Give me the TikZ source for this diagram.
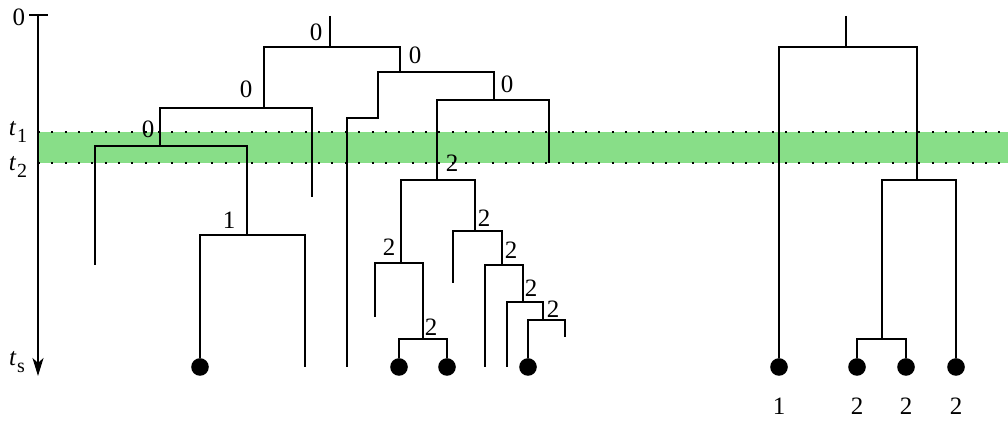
\documentclass[tikz,border=0pt]{standalone}
\usepackage{fontspec}
\setmainfont{Liberation Serif}
\usetikzlibrary{arrows.meta}
\definecolor{band}{RGB}{136,222,136}
\newcommand{\tlab}[1]{\textit{t}\kern0.3pt\raisebox{-0.3em}{\fontsize{10}{10}\selectfont #1}}
\begin{document}
\begin{tikzpicture}[x=0.5pt,y=-0.5pt,
  br/.style={line width=0.95pt},
  axisline/.style={line width=1pt},
  dotline/.style={line width=1pt, dash pattern=on 1pt off 5.67pt},
  leaf/.style={circle, fill=black, inner sep=0pt, minimum size=8.8pt},
  lab/.style={font=\fontsize{12.5}{14}\selectfont, inner sep=0pt},
]
\useasboundingbox (0,0) rectangle (1008,421);
% band
\fill[band] (38,132) rectangle (1008,163);
\coordinate (b1l) at (38,132); \coordinate (b1r) at (1008,132);
\coordinate (b2l) at (38,163); \coordinate (b2r) at (1008,163);
\draw[dotline] (b1l) -- (b1r);
\draw[dotline] (b2l) -- (b2r);
% axis
\coordinate (ax0) at (38,15); \coordinate (axs) at (38,376);
\coordinate (tkl) at (29,15); \coordinate (tkr) at (48,15);
\draw[axisline] (tkl) -- (tkr);
\draw[axisline,-{Stealth[length=9pt,width=5.5pt,inset=2.5pt]}] (ax0) -- (axs);
\node[lab] (lab0) at (19,17) {0};
\node[lab] (labt1) at (18,132) {\tlab{1}};
\node[lab] (labt2) at (18,167) {\tlab{2}};
\node[lab] (labts) at (17,362) {\tlab{s}};

% ---------- left tree ----------
\coordinate (Ltop) at (330,16);
\coordinate (L0) at (330,47);
\coordinate (L1) at (264,108);
\coordinate (L2) at (400,72);
\coordinate (L11) at (160,146);
\coordinate (L12) at (312,197);
\coordinate (L111) at (95,265);
\coordinate (L112) at (247,235);
\node[leaf] (D1) at (200,367) {};
\coordinate (L1122) at (305,367);
\coordinate (K1) at (378,118);
\coordinate (K2) at (347,367);
\coordinate (L22) at (494,100);
\coordinate (L221) at (437,180);
\coordinate (L222) at (549,163);
\coordinate (N1) at (401,263);
\coordinate (N11) at (375,317);
\coordinate (N12) at (423,339);
\node[leaf] (D2) at (399,367) {};
\node[leaf] (D3) at (447,367) {};
\coordinate (N2) at (475,231);
\coordinate (N21) at (453,283);
\coordinate (N22) at (502,265);
\coordinate (N221) at (485,367);
\coordinate (N222) at (523,302);
\coordinate (N2221) at (507,367);
\coordinate (N2222) at (543,320);
\node[leaf] (D4) at (528,367) {};
\coordinate (N22222) at (565,337);

\draw[br] (Ltop) -- (L0);
\draw[br] (L1) |- (L0) -| (L2);
\draw[br] (L11) |- (L1) -| (L12);
\draw[br] (L111) |- (L11) -| (L112);
\draw[br] (D1) |- (L112) -| (L1122);
\draw[br] (K2) |- (K1) |- (L2) -| (L22);
\draw[br] (L221) |- (L22) -| (L222);
\draw[br] (N1) |- (L221) -| (N2);
\draw[br] (N11) |- (N1) -| (N12);
\draw[br] (D2) |- (N12) -| (D3);
\draw[br] (N21) |- (N2) -| (N22);
\draw[br] (N221) |- (N22) -| (N222);
\draw[br] (N2221) |- (N222) -| (N2222);
\draw[br] (D4) |- (N2222) -| (N22222);

\node[lab] (m1) at (316,32) {0};
\node[lab] (m2) at (246,89) {0};
\node[lab] (m3) at (148,129) {0};
\node[lab] (m4) at (229,220) {1};
\node[lab] (m5) at (415,55) {0};
\node[lab] (m6) at (507,84) {0};
\node[lab] (m7) at (452,163) {2};
\node[lab] (m8) at (389,247) {2};
\node[lab] (m9) at (484,218) {2};
\node[lab] (m10) at (511,250) {2};
\node[lab] (m11) at (531,288) {2};
\node[lab] (m12) at (553,309) {2};
\node[lab] (m13) at (431,327) {2};

% ---------- right tree ----------
\coordinate (Rtop) at (846,16);
\coordinate (R0) at (846,47);
\node[leaf] (E1) at (779,367) {};
\coordinate (R2) at (917,180);
\coordinate (R21) at (882,339);
\node[leaf] (E2) at (857,367) {};
\node[leaf] (E3) at (906,367) {};
\node[leaf] (E4) at (956,367) {};
\draw[br] (Rtop) -- (R0);
\draw[br] (E1) |- (R0) -| (R2);
\draw[br] (R21) |- (R2) -| (E4);
\draw[br] (E2) |- (R21) -| (E3);

\node[lab] (f1) at (779,406) {1};
\node[lab] (f2) at (857,406) {2};
\node[lab] (f3) at (906,406) {2};
\node[lab] (f4) at (956,406) {2};
\end{tikzpicture}
\end{document}
